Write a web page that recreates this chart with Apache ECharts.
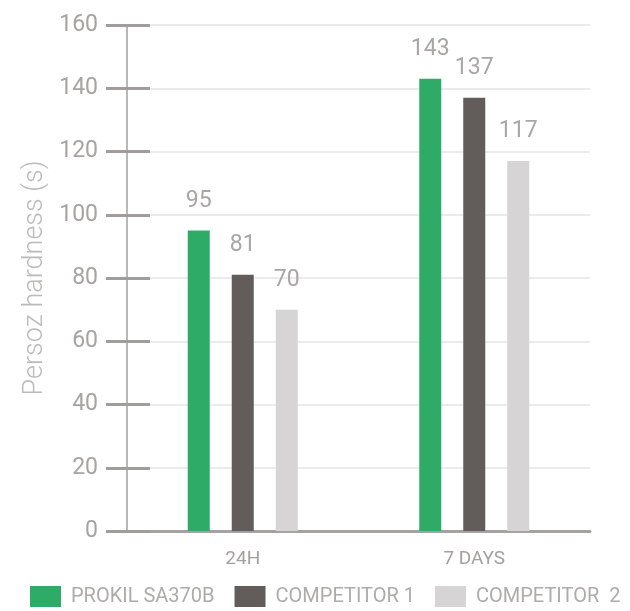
<!DOCTYPE html>
<html>
<head>
<meta charset="utf-8">
<script src="https://cdn.jsdelivr.net/npm/echarts@6/dist/echarts.min.js"></script>
<style>html,body{margin:0;padding:0;background:#fff}#c{width:630px;height:611px}</style>
</head>
<body>
<div id="c"></div>
<script>
const categories = ['24H', '7 DAYS'];
const seriesNames = ['PROKIL SA370B', 'COMPETITOR 1', 'COMPETITOR  2'];
const prokil = [95, 143];
const competitor1 = [81, 137];
const competitor2 = [70, 117];
const yTicks = [0, 20, 40, 60, 80, 100, 120, 140, 160];
const colors = ['#2eab66', '#625c5b', '#d6d4d4'];

const FONT = 'Roboto';
const yMin = yTicks[0], yMax = yTicks[yTicks.length - 1], yStep = yTicks[1] - yTicks[0];

const chart = echarts.init(document.getElementById('c'), null, {renderer: 'canvas'});
const labelCfg = {
  show: true, position: 'top', distance: 18,
  fontFamily: FONT, fontSize: 23, color: '#a9a6a5'
};
function bar(name, data, color) {
  return {
    name, type: 'bar', data, barWidth: 22, barGap: '100%',
    itemStyle: {color}, label: labelCfg, emphasis: {disabled: true}
  };
}
chart.setOption({
  animation: false,
  backgroundColor: '#fff',
  color: colors,
  grid: {left: 127, right: 40, top: 25, bottom: 80},
  legend: {
    left: 30, top: 586, width: 600, padding: 0, itemWidth: 31, itemHeight: 21, itemGap: 20,
    icon: 'rect',
    textStyle: {fontFamily: FONT, fontSize: 20, color: '#aeabaa', padding: [0, 0, 0, 5]},
    data: seriesNames
  },
  xAxis: {
    type: 'category', data: categories,
    axisLine: {lineStyle: {color: '#a5a2a1', width: 3}},
    axisTick: {show: false},
    axisLabel: {fontFamily: FONT, fontSize: 19, color: '#a3a09f', margin: 19}
  },
  yAxis: [{
    type: 'value', min: yMin, max: yMax, interval: yStep, position: 'left',
    name: 'Persoz hardness (s)', nameLocation: 'middle', nameGap: 74,
    nameTextStyle: {fontFamily: FONT, fontSize: 27, fontWeight: 300, color: '#bdbbba'},
    axisLine: {show: true, lineStyle: {color: '#bab8b7', width: 2}},
    axisTick: {show: true, length: 21, lineStyle: {color: '#a09d9c', width: 3}},
    axisLabel: {fontFamily: FONT, fontSize: 23, color: '#a6a3a2', margin: 29},
    splitLine: {show: true, lineStyle: {color: '#ebebeb', width: 2}}
  }, {
    type: 'value', min: yMin, max: yMax, interval: yStep, position: 'left', offset: 0,
    axisLine: {show: false},
    axisTick: {show: true, inside: true, length: 23, lineStyle: {color: '#a09d9c', width: 3}},
    axisLabel: {show: false},
    splitLine: {show: false}
  }],
  series: [
    bar(seriesNames[0], prokil, colors[0]),
    bar(seriesNames[1], competitor1, colors[1]),
    bar(seriesNames[2], competitor2, colors[2])
  ]
});
</script>
</body>
</html>
